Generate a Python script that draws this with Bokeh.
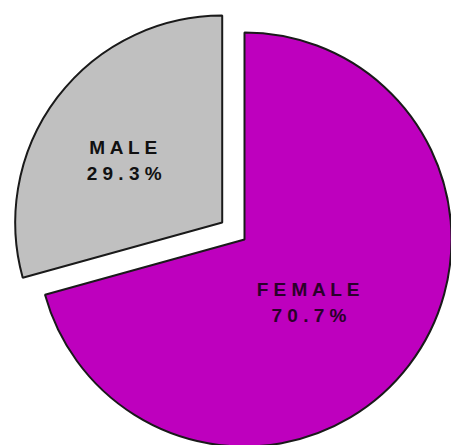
import math
from bokeh.plotting import figure
from bokeh.models import ColumnDataSource, Range1d
from bokeh.core.properties import value
from bokeh.embed import file_html
from bokeh.resources import INLINE

# ---- data ----
categories = ["FEMALE", "MALE"]
percents = [70.7, 29.3]
colors = ["#BE00BE", "#C0C0C0"]
text_colors = ["#2a002a", "#111111"]

# ---- layout constants ----
W, H = 451, 445
cx, cy = 244, H - 239          # pie centre (data units = pixels, y up)
radius = 207
explode = [0, 28]              # explode distance per slice
label_dist = [90, 116]
label_turn = [-7, 5]           # degrees off the slice bisector

total = sum(percents)
starts, ends, xs, ys, lx, ly, labels = [], [], [], [], [], [], []
angle = 90.0                   # start at 12 o'clock, go clockwise
for cat, pct, ex, ld, lt in zip(categories, percents, explode, label_dist, label_turn):
    span = pct / total * 360.0
    a0, a1 = angle - span, angle
    mid = math.radians((a0 + a1) / 2)
    ox = cx + ex * math.cos(mid)
    oy = cy + ex * math.sin(mid)
    starts.append(math.radians(a0))
    ends.append(math.radians(a1))
    xs.append(ox)
    ys.append(oy)
    lm = mid + math.radians(lt)
    lx.append(ox + ld * math.cos(lm))
    ly.append(oy + ld * math.sin(lm))
    labels.append(" ".join(cat) + "\n" + " ".join(f"{pct:.1f}%"))
    angle = a0

src = ColumnDataSource(dict(x=xs, y=ys, start=starts, end=ends, color=colors,
                            lx=lx, ly=ly, label=labels, tcolor=text_colors))

p = figure(width=W, height=H, output_backend="svg", toolbar_location=None,
           x_range=Range1d(0, W), y_range=Range1d(0, H),
           min_border=0, outline_line_color=None)
p.axis.visible = False
p.grid.visible = False
p.background_fill_color = "white"
p.border_fill_color = "white"

p.wedge(x="x", y="y", radius=radius, start_angle="start", end_angle="end",
        fill_color="color", line_color="#1a1a1a", line_width=2, source=src)

p.text(x="lx", y="ly", text="label", text_align="center", text_baseline="middle",
       text_font=value("Liberation Sans"), text_font_style="bold",
       text_font_size="19px", text_color="tcolor", text_line_height=1.25,
       source=src)

open("out.html", "w").write(file_html(p, INLINE))
